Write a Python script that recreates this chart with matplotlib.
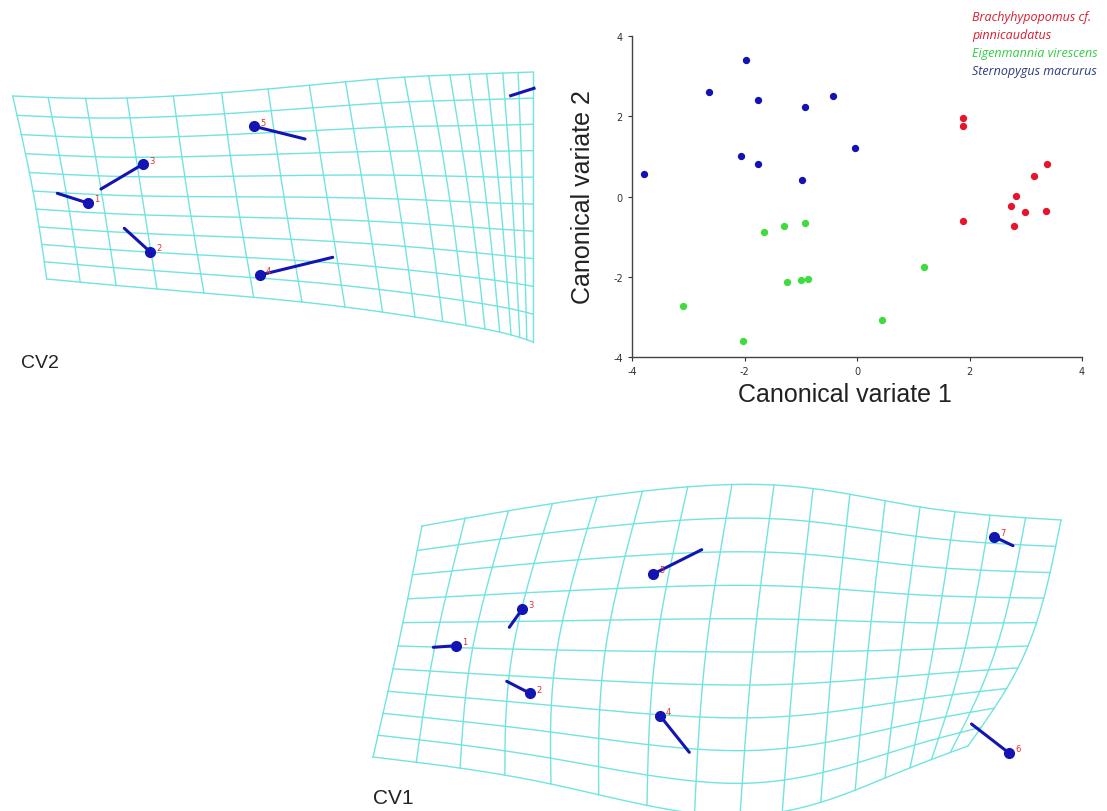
import numpy as np
import matplotlib
matplotlib.use('Agg')
import matplotlib.pyplot as plt

plt.rcParams['axes.unicode_minus'] = False

# ---- scatter data (canonical variates) ----
brachy_x = [1.89, 1.89, 3.37, 3.14, 2.83, 2.74, 2.99, 3.36, 1.89, 2.79]
brachy_y = [1.95, 1.76, 0.81, 0.50, 0.01, -0.23, -0.39, -0.35, -0.61, -0.74]
eigen_x = [-1.66, -1.29, -0.93, 1.19, -1.24, -0.99, -0.88, -3.09, 0.44, -2.03]
eigen_y = [-0.88, -0.74, -0.66, -1.76, -2.14, -2.07, -2.06, -2.72, -3.08, -3.60]
sterno_x = [-1.98, -2.64, -1.76, -0.42, -0.92, -0.04, -2.06, -1.76, -0.97, -3.79]
sterno_y = [3.39, 2.60, 2.41, 2.50, 2.22, 1.21, 1.00, 0.81, 0.40, 0.55]
ticks = [-4, -2, 0, 2, 4]

legend_lines = ['Brachyhypopomus cf.', 'pinnicaudatus',
                'Eigenmannia virescens', 'Sternopygus macrurus']

# ---- deformation grids: node positions (pixels) read at a coarse lattice ----
# CV2 grid: 18 vertical x 11 horizontal lines
cv2_ncol, cv2_nrow = 18, 11
cv2_ck = [0, 3, 6, 9, 12, 17]
cv2_rk = [0, 5, 10]
cv2_x = [[12.7, 127, 268, 377, 450, 533],
         [33, 142, 284, 398, 470, 533],
         [46.7, 157, 302, 415, 485, 533]]
cv2_y = [[97, 99, 90, 80, 76, 73],
         [192, 197, 198, 200, 203, 205],
         [280, 290, 303, 318, 330, 343]]

# CV1 grid: 17 vertical x 11 horizontal lines
cv1_ncol, cv1_nrow = 17, 11
cv1_ck = [0, 4, 8, 12, 16]
cv1_rk = [0, 5, 10]
cv1_x = [[422, 597, 774, 920, 1061],
         [398, 557, 753, 901, 1028],
         [373, 551, 740, 885, 968]]
cv1_y = [[527, 498, 486, 508, 521],
         [647, 651, 653, 651, 647],
         [758, 785, 817, 779, 747]]

# landmarks: dot position, vector end, label
cv2_dots = [(87.7, 204), (150, 252.7), (143.3, 165), (260, 276), (254, 127.3)]
cv2_ends = [(57.3, 194.3), (124.3, 229.3), (101, 190), (332.7, 258.3), (305, 140)]
cv2_labels = ['1', '2', '3', '4', '5']
cv2_extra = [(510.7, 96.7), (534, 89.3)]

cv1_dots = [(456, 646.7), (530, 694.3), (522.3, 610), (660, 716.7),
            (653.3, 575), (1009, 754), (994, 537.7)]
cv1_ends = [(433.3, 648.3), (506.7, 682.3), (509.3, 628.3), (689.3, 753.3),
            (701.7, 550.7), (971.5, 725), (1013, 546.7)]
cv1_labels = ['1', '2', '3', '4', '5', '6', '7']


def cspline(t, v, tn):
    t = np.asarray(t, float)
    v = np.asarray(v, float)
    tn = np.atleast_1d(np.asarray(tn, float))
    n = len(t)
    h = np.diff(t)
    A = np.zeros((n, n))
    b = np.zeros(n)
    A[0, 0] = A[-1, -1] = 1
    for i in range(1, n - 1):
        A[i, i - 1] = h[i - 1]
        A[i, i] = 2 * (h[i - 1] + h[i])
        A[i, i + 1] = h[i]
        b[i] = 3 * ((v[i + 1] - v[i]) / h[i] - (v[i] - v[i - 1]) / h[i - 1])
    c = np.linalg.solve(A, b)
    bb = (v[1:] - v[:-1]) / h - h * (2 * c[:-1] + c[1:]) / 3
    d = (c[1:] - c[:-1]) / (3 * h)
    idx = np.clip(np.searchsorted(t, tn) - 1, 0, n - 2)
    dx = tn - t[idx]
    return v[idx] + bb[idx] * dx + c[idx] * dx ** 2 + d[idx] * dx ** 3


def surf(M, rk, ck, r, u):
    M = np.asarray(M, float)
    r = np.atleast_1d(r)
    u = np.atleast_1d(u)
    cols = np.array([cspline(rk, M[:, k], r) for k in range(len(ck))])
    return np.array([cspline(ck, cols[:, m], u) for m in range(len(r))])


def draw_grid(ax, X, Y, rk, ck, ncol, nrow):
    u = np.linspace(0, ncol - 1, 300)
    r = np.linspace(0, nrow - 1, 200)
    for j in range(nrow):
        ax.plot(surf(X, rk, ck, j, u)[0], surf(Y, rk, ck, j, u)[0],
                color='#72e4df', lw=1.0, zorder=1)
    for i in range(ncol):
        ax.plot(surf(X, rk, ck, r, i)[:, 0], surf(Y, rk, ck, r, i)[:, 0],
                color='#72e4df', lw=1.0, zorder=1)


def draw_landmarks(ax, dots, ends, labels):
    for (x0, y0), (x1, y1), lab in zip(dots, ends, labels):
        ax.plot([x0, x1], [y0, y1], color='#1414b4', lw=2.2, zorder=3,
                solid_capstyle='round')
        ax.plot(x0, y0, 'o', color='#1414b4', ms=7, zorder=4)
        ax.text(x0 + 6, y0 - 4, lab, color='#e03030', fontsize=6,
                ha='left', va='center', zorder=5)


fig = plt.figure(figsize=(11.07, 8.12), dpi=100)

# full figure canvas in pixel coordinates for the grids
bg = fig.add_axes([0, 0, 1, 1])
bg.set_xlim(0, 1107)
bg.set_ylim(812, 0)
bg.axis('off')

draw_grid(bg, cv2_x, cv2_y, cv2_rk, cv2_ck, cv2_ncol, cv2_nrow)
draw_landmarks(bg, cv2_dots, cv2_ends, cv2_labels)
bg.plot([cv2_extra[0][0], cv2_extra[1][0]], [cv2_extra[0][1], cv2_extra[1][1]],
        color='#1414b4', lw=2.2, zorder=3)
bg.text(21, 364, 'CV2', fontsize=14, color='#222222', va='center', ha='left',
        family='Liberation Sans')

draw_grid(bg, cv1_x, cv1_y, cv1_rk, cv1_ck, cv1_ncol, cv1_nrow)
draw_landmarks(bg, cv1_dots, cv1_ends, cv1_labels)
bg.text(373, 799, 'CV1', fontsize=15, color='#222222', va='center', ha='left',
        family='Liberation Sans')

# scatter plot
ax = fig.add_axes([632 / 1107, 1 - 358 / 812, 450 / 1107, 321 / 812])
ax.scatter(brachy_x, brachy_y, s=18, color='#e8142c', zorder=3)
ax.scatter(eigen_x, eigen_y, s=18, color='#3fdc3f', zorder=3)
ax.scatter(sterno_x, sterno_y, s=18, color='#1212b8', zorder=3)
ax.set_xlim(-4, 4)
ax.set_ylim(-4, 4)
ax.set_xticks(ticks)
ax.set_yticks(ticks)
ax.tick_params(labelsize=7, colors='#333333', length=3, width=0.8)
for s in ['top', 'right']:
    ax.spines[s].set_visible(False)
for s in ['left', 'bottom']:
    ax.spines[s].set_color('#444444')
    ax.spines[s].set_linewidth(1)
ax.set_xlabel('Canonical variate 1', fontsize=18, family='Liberation Sans',
              color='#222222', labelpad=4)
ax.xaxis.label.set_x(0.473)
ax.set_ylabel('Canonical variate 2', fontsize=18, family='Liberation Sans',
              color='#222222', labelpad=13)

legend_colors = ['#d81e2e', '#d81e2e', '#33cc44', '#2a3a80']
for k, (txt, col) in enumerate(zip(legend_lines, legend_colors)):
    fig.text(972 / 1107, 1 - (18 + 17.7 * k) / 812, txt, color=col,
             fontsize=9, style='italic', family='Open Sans',
             ha='left', va='center')

fig.savefig('out.png', dpi=100)
